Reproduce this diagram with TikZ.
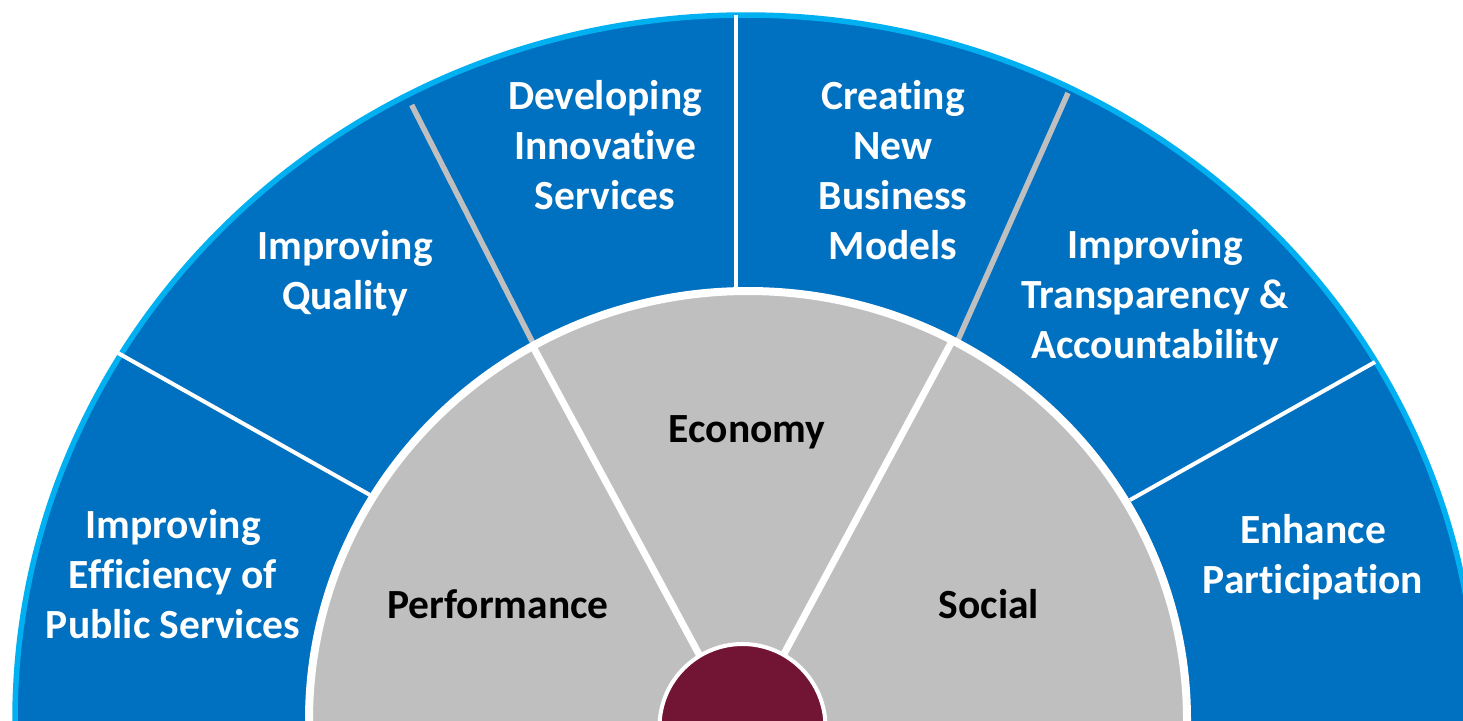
\documentclass[tikz,border=0pt]{standalone}
\usepackage{fontspec}
\setmainfont{Carlito}[Ligatures=NoCommon]
\definecolor{ringblue}{RGB}{0,112,192}
\definecolor{ringedge}{RGB}{0,176,240}
\definecolor{diskgray}{RGB}{191,191,191}
\definecolor{hubred}{RGB}{114,20,52}
\begin{document}
\begin{tikzpicture}[x=1pt,y=-1pt,
  lbl/.style={font=\fontsize{41.5}{50}\selectfont\bfseries, align=center, inner sep=0pt},
  outlbl/.style={lbl,text=white},
  inlbl/.style={lbl,text=black},
  ringline/.style={white, line width=4pt},
  sepline/.style={diskgray, line width=5.5pt},
  spoke/.style={white, line width=7pt}]
\useasboundingbox (0,0) rectangle (1463,720);
\clip (0,0) rectangle (1463,720);
\fill[white] (0,0) rectangle (1463,720);
% outer ring
\draw[fill=ringblue, draw=ringedge, line width=5.5pt] (746,720) ellipse [x radius=731pt, y radius=705pt];
% ring dividers
\draw[ringline] (118,353) -- (370,495);
\draw[ringline] (1375,362) -- (1130,500);
\draw[ringline] (736,15) -- (736,292);
\draw[sepline] (411.7,105) -- (535,347);
\draw[sepline] (1068,93) -- (958,340);
% inner disk
\draw[fill=diskgray, draw=white, line width=8pt] (748,720) ellipse [x radius=439pt, y radius=429pt];
% spokes
\coordinate (hc) at (741.5,733);
\coordinate (sl) at (531,343);
\coordinate (sr) at (951,343);
\draw[spoke] (hc) -- (sl);
\draw[spoke] (hc) -- (sr);
% hub
\node[circle, fill=hubred, draw=white, line width=4pt, minimum size=166pt, inner sep=0pt] (hub) at (742.5,727) {};
% labels
\node[outlbl] (eff) at (173,574) {Improving\\Efficiency of\\Public Services};
\node[outlbl] (qual) at (345,273) {Improving\\Quality};
\node[outlbl] (dev) at (605,145) {Developing\\Innovative\\Services};
\node[outlbl] (biz) at (893,170) {Creating\\New\\Business\\Models};
\node[outlbl] (trans) at (1155,297) {Improving\\Transparency \&\\Accountability};
\node[outlbl] (part) at (1313,557) {Enhance\\Participation};
\node[inlbl] (eco) at (747,432) {Economy};
\node[inlbl] (perf) at (498,604) {Performance};
\node[inlbl] (soc) at (989,604) {Social};
\end{tikzpicture}
\end{document}
